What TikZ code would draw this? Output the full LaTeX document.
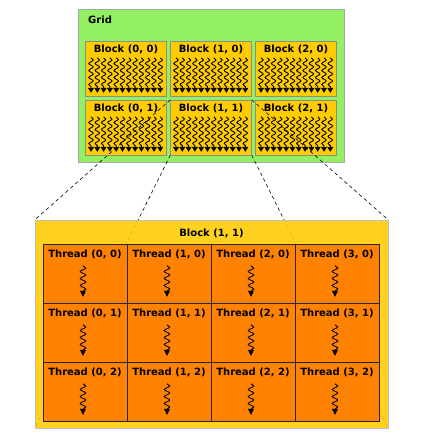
\documentclass[tikz,border=0pt]{standalone}
\usepackage{fontspec}
\setmainfont{DejaVu Sans}
\usetikzlibrary{calc,decorations.pathmorphing,arrows.meta}
\definecolor{gridgreen}{RGB}{146,240,98}
\definecolor{blockyellow}{RGB}{255,204,0}
\definecolor{threadorange}{RGB}{255,122,0}
\pgfdeclarelayer{front}
\pgfsetlayers{main,front}
\begin{document}
\begin{tikzpicture}[
  x=1pt, y=-1pt,
  lbl/.style={font=\fontsize{10}{12}\selectfont\bfseries, inner sep=0pt},
  gridbox/.style={draw=black!35, fill=gridgreen, minimum width=266pt, minimum height=153pt, inner sep=0pt},
  blockbox/.style={draw=black!45, fill=blockyellow, minimum width=81pt, minimum height=55pt, inner sep=0pt},
  bigblock/.style={draw=black!25, fill=blockyellow, fill opacity=0.88, minimum width=353pt, minimum height=208pt, inner sep=0pt},
  threadbox/.style={draw=black!85, fill=threadorange, fill opacity=0.9, minimum width=84pt, minimum height=59pt, inner sep=0pt},
  wavy/.style={decorate, decoration={snake, amplitude=2.2pt, segment length=7pt, post length=3pt}, -{Triangle[length=5pt,width=6pt]}, line width=0.9pt},
  squiggle/.style={decorate, decoration={snake, amplitude=2.8pt, segment length=7pt, post length=3pt}, -{Triangle[length=6pt,width=6pt]}, line width=0.9pt},
  link/.style={dash pattern=on 3.5pt off 3pt, line width=0.6pt}
]
  \useasboundingbox (0,0) rectangle (426,440);

  % grid of blocks
  \node[gridbox] (grid) at (211,85.5) {};
  \node[lbl, anchor=west] (gridlbl) at (88,20) {Grid};
  \foreach \i in {0,1,2}
    \foreach \j in {0,1} {
      \node[blockbox] (b\i\j) at (126+85*\i, 68.5+59*\j) {};
      \node[lbl] (b\i\j-t) at ([yshift=-9pt]b\i\j.north) {Block (\i, \j)};
      \foreach \k in {0,...,11}
        \draw[wavy] ($(b\i\j.north)+(-35+6.3*\k, 17)$) -- ++(0,35);
    }

  % block (1, 1) enlarged
  \begin{pgfonlayer}{front}
    \node[bigblock] (big) at (211.5,324) {};
    \node[lbl] (big-t) at (211.5,233) {Block (1, 1)};
    \foreach \i in {0,...,3}
      \foreach \j in {0,1,2} {
        \node[threadbox] (t\i\j) at (85+84*\i, 273.5+59*\j) {};
        \node[lbl] (t\i\j-t) at ([yshift=-11pt]t\i\j.north) {Thread (\i, \j)};
        \draw[squiggle] ($(t\i\j.north)+(-2,22)$) -- ++(0,31);
      }
  \end{pgfonlayer}

  \foreach \c in {north west, north east, south west, south east}
    \draw[link] (b11.\c) -- (big.\c);
\end{tikzpicture}
\end{document}
